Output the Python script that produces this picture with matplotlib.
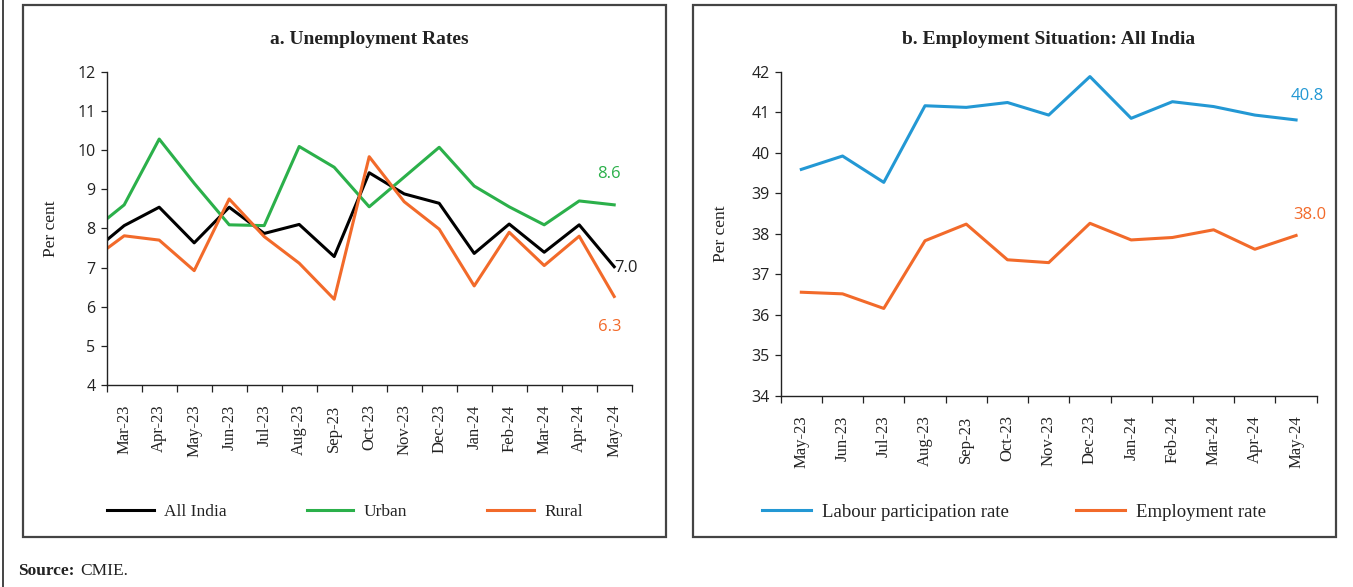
import matplotlib
matplotlib.use("Agg")
import matplotlib.pyplot as plt
import numpy as np
from matplotlib.patches import Rectangle
from matplotlib.lines import Line2D

# ---------------- data ----------------
months_a = ["Feb-23", "Mar-23", "Apr-23", "May-23", "Jun-23", "Jul-23", "Aug-23", "Sep-23",
            "Oct-23", "Nov-23", "Dec-23", "Jan-24", "Feb-24", "Mar-24", "Apr-24", "May-24"]
all_india = [7.33, 8.07, 8.54, 7.63, 8.54, 7.87, 8.10, 7.28, 9.42, 8.88, 8.64, 7.36, 8.11, 7.39, 8.09, 7.02]
urban = [7.88, 8.60, 10.28, 9.15, 8.09, 8.07, 10.09, 9.56, 8.55, 9.31, 10.07, 9.08, 8.55, 8.09, 8.70, 8.60]
rural = [7.15, 7.81, 7.70, 6.92, 8.75, 7.79, 7.11, 6.19, 9.83, 8.68, 7.98, 6.53, 7.90, 7.05, 7.80, 6.26]

months_b = ["May-23", "Jun-23", "Jul-23", "Aug-23", "Sep-23", "Oct-23", "Nov-23", "Dec-23",
            "Jan-24", "Feb-24", "Mar-24", "Apr-24", "May-24"]
lpr = [39.59, 39.92, 39.27, 41.16, 41.12, 41.24, 40.93, 41.88, 40.85, 41.26, 41.14, 40.93, 40.81]
emp = [36.56, 36.52, 36.16, 37.83, 38.24, 37.36, 37.29, 38.26, 37.85, 37.91, 38.10, 37.62, 37.96]

C_BLACK = "#000000"
C_GREEN = "#2bb04a"
C_ORANGE = "#f26a2a"
C_BLUE = "#2398d4"

SERIF = ["Liberation Serif", "DejaVu Serif"]
SANS = ["Open Sans", "DejaVu Sans"]

W, H = 1353, 587
fig = plt.figure(figsize=(W / 100, H / 100), dpi=100)


def fx(px):
    return px / W


def fy(py):
    return 1 - py / H


# panel borders
for (x0, x1) in [(23, 666), (693, 1336)]:
    fig.patches.append(Rectangle((fx(x0), fy(537)), fx(x1 - x0), (537 - 5) / H,
                                 transform=fig.transFigure, fill=False,
                                 edgecolor="#444444", lw=1.6))
fig.lines.append(Line2D([fx(3), fx(3)], [0, 1], transform=fig.transFigure,
                        color="#444444", lw=1.4))


def style_axes(ax):
    for s in ["top", "right"]:
        ax.spines[s].set_visible(False)
    for s in ["left", "bottom"]:
        ax.spines[s].set_color("#222222")
        ax.spines[s].set_linewidth(1.0)
    ax.tick_params(axis="y", direction="out", length=4, width=0.9, color="#222222",
                   labelsize=11.5, pad=4, labelcolor="#222222")
    ax.tick_params(axis="x", which="minor", direction="out", length=5, width=0.9, color="#222222")
    ax.tick_params(axis="x", which="major", length=0, labelsize=12, pad=14, labelcolor="#222222")
    for lab in ax.get_yticklabels():
        lab.set_family(SANS)
    for lab in ax.get_xticklabels():
        lab.set_family(SERIF)
        lab.set_rotation(90)


# ---------------- panel a ----------------
axa = fig.add_axes([fx(106.7), fy(385), fx(525), (385 - 71.7) / H])
xa = np.arange(len(months_a))
axa.plot(xa, all_india, color=C_BLACK, lw=2.2, label="All India")
axa.plot(xa, urban, color=C_GREEN, lw=2.2, label="Urban")
axa.plot(xa, rural, color=C_ORANGE, lw=2.2, label="Rural")
axa.set_xlim(0.5, len(months_a) - 0.5)
axa.set_ylim(4, 12)
axa.set_yticks(range(4, 13))
axa.set_xticks(xa[1:])
axa.set_xticklabels(months_a[1:])
axa.set_xticks(np.arange(0.5, len(months_a), 1.0), minor=True)
style_axes(axa)
axa.set_ylabel("Per cent", family=SERIF, fontsize=12.5, labelpad=13, color="#222222")
axa.set_title("a. Unemployment Rates", family=SERIF, fontweight="bold", fontsize=14,
              pad=20, color="#222222")
axa.annotate(f"{urban[-1]:.1f}", (xa[-1], urban[-1]), xytext=(-12, 22), textcoords="offset points",
             color=C_GREEN, fontsize=12, family=SANS, ha="left", va="center")
axa.annotate(f"{all_india[-1]:.1f}", (xa[-1], all_india[-1]), xytext=(0, -1), textcoords="offset points",
             color="#222222", fontsize=12, family=SANS, ha="left", va="center")
axa.annotate(f"{rural[-1]:.1f}", (xa[-1], rural[-1]), xytext=(-12, -22), textcoords="offset points",
             color=C_ORANGE, fontsize=12, family=SANS, ha="left", va="center")
leg = axa.legend(loc="center", bbox_to_anchor=(fx(345), fy(512)), bbox_transform=fig.transFigure,
                 ncol=3, frameon=False, handlelength=2.7, columnspacing=4.6, handletextpad=0.6,
                 prop={"family": SERIF, "size": 12.5})
for t in leg.get_texts():
    t.set_color("#222222")

# ---------------- panel b ----------------
axb = fig.add_axes([fx(780.7), fy(396), fx(536), (396 - 71.7) / H])
xb = np.arange(len(months_b))
axb.plot(xb, lpr, color=C_BLUE, lw=2.2, label="Labour participation rate")
axb.plot(xb, emp, color=C_ORANGE, lw=2.2, label="Employment rate")
axb.set_xlim(-0.5, len(months_b) - 0.5)
axb.set_ylim(34, 42)
axb.set_yticks(range(34, 43))
axb.set_xticks(xb)
axb.set_xticklabels(months_b)
axb.set_xticks(np.arange(-0.5, len(months_b), 1.0), minor=True)
style_axes(axb)
axb.set_ylabel("Per cent", family=SERIF, fontsize=12.5, labelpad=16, color="#222222")
axb.set_title("b. Employment Situation: All India", family=SERIF, fontweight="bold", fontsize=14,
              pad=20, color="#222222")
axb.annotate(f"{lpr[-1]:.1f}", (xb[-1], lpr[-1]), xytext=(-4, 17), textcoords="offset points",
             color=C_BLUE, fontsize=12, family=SANS, ha="left", va="center")
axb.annotate(f"{emp[-1]:.1f}", (xb[-1], emp[-1]), xytext=(-2, 15), textcoords="offset points",
             color=C_ORANGE, fontsize=12, family=SANS, ha="left", va="center")
legb = axb.legend(loc="center", bbox_to_anchor=(fx(1014), fy(512)), bbox_transform=fig.transFigure,
                  ncol=2, frameon=False, handlelength=2.6, columnspacing=3.6, handletextpad=0.6,
                  prop={"family": SERIF, "size": 13.5})
for t in legb.get_texts():
    t.set_color("#222222")

# source
fig.text(fx(18), fy(571), "Source:", fontsize=12.5, family=SERIF, fontweight="bold",
         va="center", color="#222222")
fig.text(fx(80), fy(571), "CMIE.", fontsize=12.5, family=SERIF, va="center", color="#222222")

fig.savefig("out.png", dpi=100)
